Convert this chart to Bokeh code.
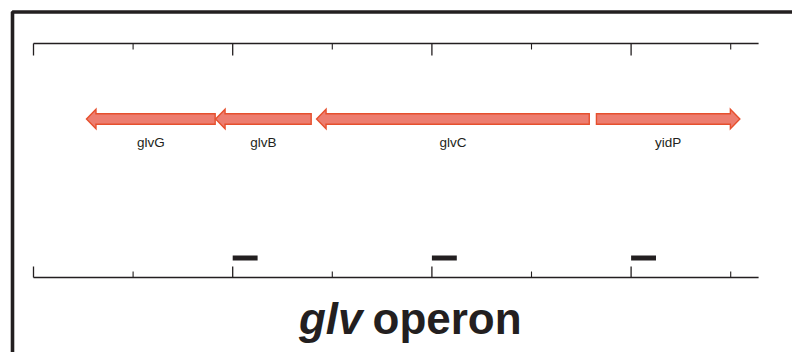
from bokeh.plotting import figure
from bokeh.models import Range1d
from bokeh.core.properties import value
from bokeh.embed import file_html
from bokeh.resources import INLINE

# ---- data (positions in bp) ----
genes = ["glvG", "glvB", "glvC", "yidP"]
gene_start = [266, 914, 1421, 2826]
gene_end = [912, 1394, 2790, 3546]
strand = [-1, -1, -1, 1]

frag_start = [1000, 2000, 3000]
frag_end = [1125, 2125, 3125]

axis_start, axis_end = 0, 3640
major_ticks = [0, 1000, 2000, 3000]
minor_ticks = [500, 1500, 2500, 3500]

title_italic = "glv"
title_rest = "operon"

# ---- layout (screen-like vertical units, px per bp horizontally) ----
W, H = 792, 352
PX = 0.1992          # pixels per bp
X0 = 33              # pixel of bp 0
def xd(px):
    return (px - X0) / PX

DARK = "#231f20"
FILL = "#ED7D6F"
EDGE = "#E6502E"

p = figure(width=W, height=H, output_backend="svg", toolbar_location=None,
           x_range=Range1d(xd(0), xd(W)), y_range=Range1d(H, 0),
           min_border=0, min_border_left=0, min_border_right=0,
           min_border_top=0, min_border_bottom=0)
p.axis.visible = False
p.grid.visible = False
p.outline_line_color = None
p.background_fill_color = "white"
p.border_fill_color = "white"

# outer frame (top + left)
p.line([xd(12), xd(12), xd(W + 5)], [H + 5, 11.5, 11.5], line_color=DARK, line_width=3.6)

# top and bottom scale bars
y_top, y_bot = 43, 277
for y, major_len, minor_len in [(y_top, 12, 6), (y_bot, -11, -6)]:
    p.line([axis_start, axis_end], [y, y], line_color=DARK, line_width=1.3)
    p.segment(x0=major_ticks, x1=major_ticks, y0=[y] * len(major_ticks),
              y1=[y + major_len] * len(major_ticks), line_color=DARK, line_width=1.3)
    p.segment(x0=minor_ticks, x1=minor_ticks, y0=[y] * len(minor_ticks),
              y1=[y + minor_len] * len(minor_ticks), line_color=DARK, line_width=1.1)

# gene arrows
yc = 118.5
shaft = 5.2
head = 9.8
head_len = xd(X0 + 9.5) - xd(X0)
xs, ys = [], []
for s, e, d in zip(gene_start, gene_end, strand):
    if d < 0:
        tip, base, tail = s, s + head_len, e
    else:
        tip, base, tail = e, e - head_len, s
    xs.append([tip, base, base, tail, tail, base, base])
    ys.append([yc, yc - head, yc - shaft, yc - shaft, yc + shaft, yc + shaft, yc + head])
p.patches(xs, ys, fill_color=FILL, line_color=EDGE, line_width=1.4, line_join="miter")

# gene labels
centers = [(s + e) / 2 for s, e in zip(gene_start, gene_end)]
p.text(x=centers, y=[142] * len(genes), text=genes, text_align="center",
       text_baseline="middle", text_font=value("Liberation Sans"),
       text_font_size="13.5px", text_color=DARK)

# fragment bars
p.quad(left=frag_start, right=frag_end, top=[255] * len(frag_start),
       bottom=[260] * len(frag_start), fill_color=DARK, line_color=None)

# title
p.text(x=[xd(362)], y=[318], text=[title_italic], text_align="right",
       text_baseline="middle", text_font=value("Liberation Sans"),
       text_font_size="44px", text_font_style="bold italic", text_color=DARK)
p.text(x=[xd(372)], y=[318], text=[title_rest], text_align="left",
       text_baseline="middle", text_font=value("Liberation Sans"),
       text_font_size="44px", text_font_style="bold", text_color=DARK)

open("out.html", "w").write(file_html(p, INLINE))
